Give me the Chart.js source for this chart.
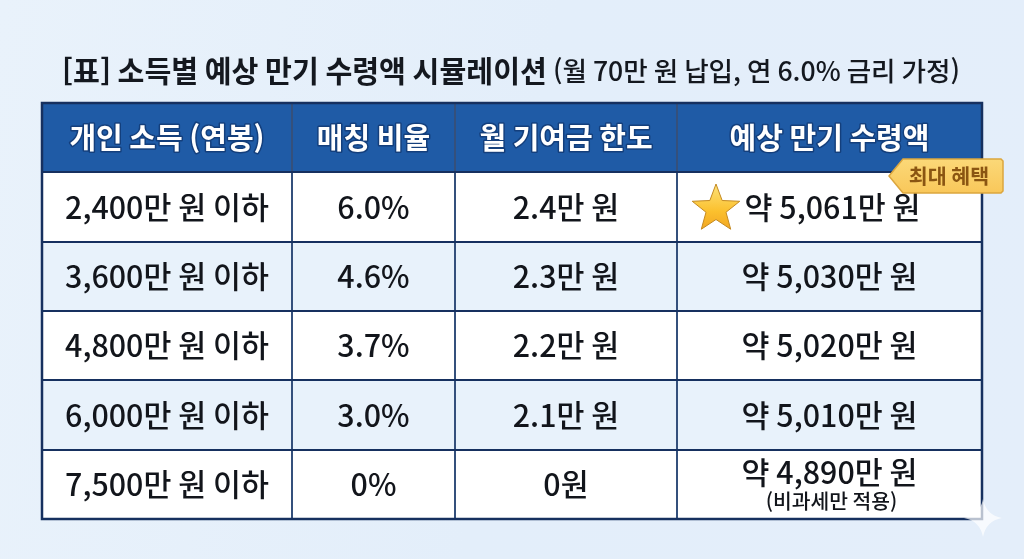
<!DOCTYPE html>
<html lang="ko"><head><meta charset="utf-8">
<script src="https://cdn.jsdelivr.net/npm/chart.js@4"></script>
<style>
html,body{margin:0;padding:0;width:1024px;height:559px;overflow:hidden;
background:linear-gradient(100deg,#e9f2fb 0%,#e3eefa 50%,#e4eefa 100%)}
canvas{display:block}
</style></head><body>
<canvas id="c" width="1024" height="559"></canvas>
<script>
const titleMain = "[표] 소득별 예상 만기 수령액 시뮬레이션";
const titleNote = "(월 70만 원 납입, 연 6.0% 금리 가정)";
const headers = ["개인 소득 (연봉)", "매칭 비율", "월 기여금 한도", "예상 만기 수령액"];
const incomes = ["2,400만 원 이하", "3,600만 원 이하", "4,800만 원 이하", "6,000만 원 이하", "7,500만 원 이하"];
const rates = ["6.0%", "4.6%", "3.7%", "3.0%", "0%"];
const limits = ["2.4만 원", "2.3만 원", "2.2만 원", "2.1만 원", "0원"];
const payouts = ["약 5,061만 원", "약 5,030만 원", "약 5,020만 원", "약 5,010만 원", "약 4,890만 원"];
const payoutNote = "(비과세만 적용)";
const badgeText = "최대 혜택";
const columnShares = [250, 163, 222, 305];
const rowKeys = ["header", ...incomes];

const FONT = '"Noto Sans CJK KR","Noto Sans",sans-serif';
const edges = columnShares.reduce((a, w) => (a.push(a[a.length - 1] + w), a), [0]);
const rowColor = i => i === 0 ? "#1f5ba6" : (i % 2 ? "#ffffff" : "#e8f2fb");

const datasets = columnShares.map(w => ({
  data: rowKeys.map(() => w),
  backgroundColor: rowKeys.map((_, i) => rowColor(i)),
  borderWidth: 0, barPercentage: 1, categoryPercentage: 1, stack: "t"
}));

function put(ctx, txt, x, y, font, color, align = "center") {
  ctx.font = font; ctx.fillStyle = color; ctx.textAlign = align; ctx.textBaseline = "middle";
  ctx.fillText(txt, x, y);
}
const tablePlugin = {
  id: "tableText",
  afterDraw(chart) {
    const { ctx, scales: { x, y }, chartArea: a } = chart;
    const mid = c => x.getPixelForValue((edges[c] + edges[c + 1]) / 2);
    ctx.save();
    ctx.strokeStyle = "#16305f"; ctx.lineWidth = 2.5;
    ctx.strokeRect(a.left, a.top, a.right - a.left, a.bottom - a.top);
    ctx.textBaseline = "middle";
    put(ctx, titleMain, 62, 71, `700 29.2px ${FONT}`, "#14181f", "left");
    put(ctx, titleNote, 553, 71, `500 26.6px ${FONT}`, "#14181f", "left");
    headers.forEach((h, c) => {
      ctx.font = `700 29px ${FONT}`; ctx.textAlign = "center"; ctx.textBaseline = "middle";
      ctx.lineJoin = "round"; ctx.lineWidth = 3; ctx.strokeStyle = "#143f7c";
      ctx.strokeText(h, mid(c), y.getPixelForValue(0));
      ctx.fillStyle = "#ffffff"; ctx.fillText(h, mid(c), y.getPixelForValue(0));
    });
    const bodyFont = `500 30.4px ${FONT}`, ink = "#12151b";
    incomes.forEach((t, r) => {
      const py = y.getPixelForValue(r + 1);
      put(ctx, t, mid(0), py, bodyFont, ink);
      put(ctx, rates[r], mid(1), py, bodyFont, ink);
      put(ctx, limits[r], mid(2), py, bodyFont, ink);
      if (r === 0) put(ctx, payouts[r], mid(3) + 3, py, bodyFont, ink);
      else if (r === 4) {
        put(ctx, payouts[r], mid(3), py - 12, bodyFont, ink);
        put(ctx, payoutNote, mid(3) + 2, py + 17, `500 20.4px ${FONT}`, ink);
      } else put(ctx, payouts[r], mid(3), py, bodyFont, ink);
    });
    const sx = 716, sy = 209, R = 25, r0 = 10.5;
    ctx.beginPath();
    for (let i = 0; i < 10; i++) {
      const ang = -Math.PI / 2 + i * Math.PI / 5, rr = i % 2 ? r0 : R;
      const px = sx + rr * Math.cos(ang), py = sy + rr * Math.sin(ang);
      i ? ctx.lineTo(px, py) : ctx.moveTo(px, py);
    }
    ctx.closePath();
    const g = ctx.createLinearGradient(sx, sy - R, sx, sy + R);
    g.addColorStop(0, "#fde27a"); g.addColorStop(.55, "#fbc02d"); g.addColorStop(1, "#f0a020");
    ctx.fillStyle = g; ctx.fill();
    ctx.strokeStyle = "#c48a22"; ctx.lineWidth = 1; ctx.lineJoin = "miter"; ctx.stroke();
    ctx.beginPath();
    ctx.moveTo(889, 176); ctx.lineTo(903, 159); ctx.lineTo(1001, 159);
    ctx.lineTo(1003, 161); ctx.lineTo(1003, 191); ctx.lineTo(1001, 193); ctx.lineTo(903, 193);
    ctx.closePath();
    const gb = ctx.createLinearGradient(0, 159, 0, 193);
    gb.addColorStop(0, "#fbd878"); gb.addColorStop(1, "#f9c75a");
    ctx.fillStyle = gb; ctx.fill();
    ctx.strokeStyle = "#dca63e"; ctx.lineWidth = 1.5; ctx.stroke();
    put(ctx, badgeText, 949, 176, `700 20.6px ${FONT}`, "#8a5512");
    ctx.beginPath();
    const cx = 983, cy = 518, L = 19, s = 3;
    ctx.moveTo(cx, cy - L); ctx.quadraticCurveTo(cx + s, cy - s, cx + L, cy);
    ctx.quadraticCurveTo(cx + s, cy + s, cx, cy + L); ctx.quadraticCurveTo(cx - s, cy + s, cx - L, cy);
    ctx.quadraticCurveTo(cx - s, cy - s, cx, cy - L);
    ctx.fillStyle = "rgba(255,255,255,.7)"; ctx.fill();
    ctx.restore();
  }
};

new Chart(document.getElementById("c"), {
  type: "bar",
  data: { labels: rowKeys, datasets },
  plugins: [tablePlugin],
  options: {
    indexAxis: "y", responsive: false, animation: false, devicePixelRatio: 1,
    layout: { padding: { left: 42, right: 42, top: 103, bottom: 40 } },
    plugins: { legend: { display: false }, tooltip: { enabled: false }, title: { display: false } },
    scales: {
      x: {
        type: "linear", stacked: true, min: 0, max: edges[edges.length - 1],
        afterBuildTicks: s => { s.ticks = edges.map(value => ({ value })); },
        ticks: { display: false, autoSkip: false },
        grid: { color: "#34507c", lineWidth: 2, drawTicks: false, z: 1 }, border: { display: false }
      },
      y: {
        type: "category", stacked: true, reverse: false,
        ticks: { display: false },
        grid: { color: "#16305f", lineWidth: 2, drawTicks: false, z: 1 }, border: { display: false }
      }
    }
  }
});
</script></body></html>
